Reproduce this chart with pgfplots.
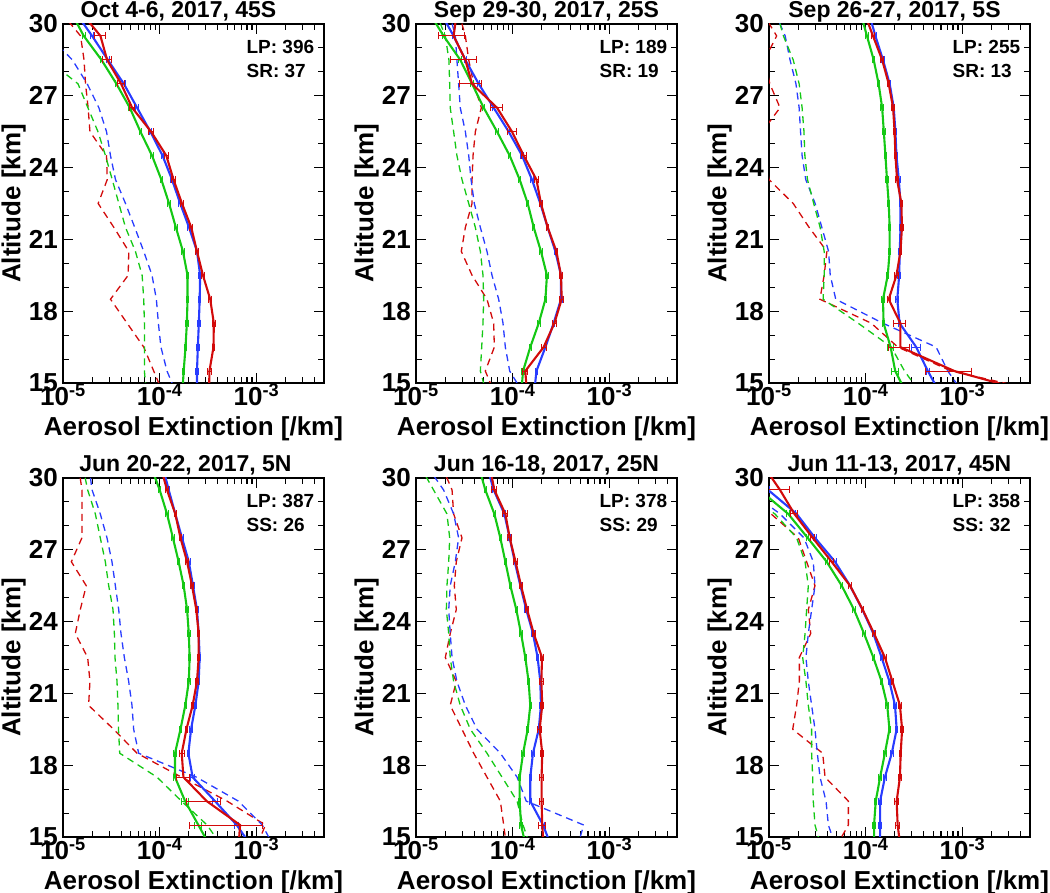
\documentclass[border=0pt]{standalone}
\usepackage{pgfplots}
\pgfplotsset{compat=1.18}
\usepackage{fontspec}
\setmainfont{Liberation Sans}
\definecolor{cR}{RGB}{210,10,10}
\definecolor{cB}{RGB}{40,60,255}
\definecolor{cG}{RGB}{20,200,20}
\newcommand{\tfont}{\fontsize{26}{26}\selectfont\bfseries}
\pgfplotsset{
  every axis/.append style={
    xmin=1e-5, xmax=5e-3, ymin=15, ymax=30,
    scale only axis, width=261pt, height=359pt, anchor=south west,
    axis line style={line width=1.3pt},
    tick style={black, line width=1.1pt},
    major tick length=10pt, minor tick length=6pt,
    xtick={1e-5,1e-4,1e-3},
    xticklabels={10\textsuperscript{-5},10\textsuperscript{-4},10\textsuperscript{-3}},
    minor xtick={2e-5,3e-5,4e-5,5e-5,6e-5,7e-5,8e-5,9e-5,2e-4,3e-4,4e-4,5e-4,6e-4,7e-4,8e-4,9e-4,2e-3,3e-3,4e-3},
    ytick={15,18,21,24,27,30},
    yticklabels={15,18,21,24,27,30},
    minor ytick={16,17,19,20,22,23,25,26,28,29},
    tick label style={font=\tfont},
    xticklabel style={anchor=north, inner sep=0pt, yshift=-1pt},
    yticklabel style={anchor=east, inner sep=0pt, xshift=-5pt},
    xlabel={Aerosol Extinction [/km]}, ylabel={Altitude [km]},
    xlabel style={at={(axis description cs:0.5,-0.145)}, anchor=base, font=\tfont},
    ylabel style={at={(axis description cs:-0.189,0.5)}, anchor=center, font=\tfont},
    title style={at={(axis description cs:0.5,1)}, anchor=base, font=\fontsize{23}{23}\selectfont\bfseries},
  },
}
\tikzset{
  mysol/.style={line width=2.1pt},
  mydash/.style={line width=1.3pt, dash pattern=on 7pt off 5pt},
}
\newcommand{\info}[2]{%
  \node[anchor=base west, font=\fontsize{19}{19}\selectfont\bfseries] at (axis description cs:0.69,0.919) {#1};
  \node[anchor=base west, font=\fontsize{19}{19}\selectfont\bfseries] at (axis description cs:0.69,0.852) {#2};}
\begin{document}
\begin{tikzpicture}
\useasboundingbox (0pt,0pt) rectangle (1050pt,893pt);
% ---------------- Panel 1 ----------------
\begin{semilogxaxis}[at={(63pt,510pt)}, title={Oct 4-6, 2017, 45S}, title style={xshift=-15pt}]
\addplot[cR,mydash] table[row sep=\\,x=x,y=y]{y x\\30.5 9.5e-6\\29.5 1.52e-5\\28.5 1.65e-5\\27.5 1.71e-5\\26.5 1.82e-5\\25.5 1.90e-5\\24.5 2.82e-5\\23.5 2.87e-5\\22.5 2.31e-5\\21.5 3.36e-5\\20.5 4.79e-5\\19.5 4.72e-5\\18.5 3.10e-5\\17.5 4.60e-5\\16.5 6.84e-5\\15.5 8.67e-5\\14.5 1.10e-4\\};
\addplot[cB,mydash] table[row sep=\\,x=x,y=y]{y x\\30.5 4e-6\\29.5 7.2e-6\\28.5 1.25e-5\\27.5 1.78e-5\\26.5 2.35e-5\\25.5 2.82e-5\\24.5 3.10e-5\\23.5 3.49e-5\\22.5 4.43e-5\\21.5 5.52e-5\\20.5 6.84e-5\\19.5 8.33e-5\\18.5 9.24e-5\\17.5 9.69e-5\\16.5 1.03e-4\\15.5 1.19e-4\\14.5 1.51e-4\\};
\addplot[cG,mydash] table[row sep=\\,x=x,y=y]{y x\\30.5 2e-6\\29.5 3e-6\\28.5 7.0e-6\\27.5 1.43e-5\\26.5 1.81e-5\\25.5 2.30e-5\\24.5 2.75e-5\\23.5 3.23e-5\\22.5 3.78e-5\\21.5 4.43e-5\\20.5 5.61e-5\\19.5 6.58e-5\\18.5 6.84e-5\\17.5 6.95e-5\\16.5 6.95e-5\\15.5 6.95e-5\\14.5 7.3e-5\\};
\addplot[cG,mysol,error bars/.cd, x dir=both, x explicit relative, error bar style={line width=1pt}, error mark options={rotate=90, mark size=3.5pt, line width=1pt}] table[row sep=\\,x=x,y=y,x error expr=0.03]{y x\\30.5 1.21e-5\\29.5 1.64e-5\\28.5 2.50e-5\\27.5 3.57e-5\\26.5 4.91e-5\\25.5 6.32e-5\\24.5 8.33e-5\\23.5 1.04e-4\\22.5 1.25e-4\\21.5 1.47e-4\\20.5 1.74e-4\\19.5 1.94e-4\\18.5 1.94e-4\\17.5 1.91e-4\\16.5 1.85e-4\\15.5 1.77e-4\\14.5 1.71e-4\\};
\addplot[cB,mysol,error bars/.cd, x dir=both, x explicit relative, error bar style={line width=1pt}, error mark options={rotate=90, mark size=3.5pt, line width=1pt}] table[row sep=\\,x=x,y=y,x error expr=0.03]{y x\\30.5 1.34e-5\\29.5 2.00e-5\\28.5 2.91e-5\\27.5 4.26e-5\\26.5 5.84e-5\\25.5 8.01e-5\\24.5 1.07e-4\\23.5 1.34e-4\\22.5 1.63e-4\\21.5 2.01e-4\\20.5 2.43e-4\\19.5 2.62e-4\\18.5 2.59e-4\\17.5 2.54e-4\\16.5 2.48e-4\\15.5 2.43e-4\\14.5 2.43e-4\\};
\addplot[cR,mysol,error bars/.cd, x dir=both, x explicit relative, error bar style={line width=1pt}, error mark options={rotate=90, mark size=3.5pt, line width=1pt}] table[row sep=\\,x=x,y=y,x error=e]{y x e\\30.5 1.53e-5 0\\29.5 2.44e-5 0.14\\28.5 2.86e-5 0.10\\27.5 3.99e-5 0.08\\26.5 5.19e-5 0.06\\25.5 8.15e-5 0.05\\24.5 1.17e-4 0.05\\23.5 1.39e-4 0.04\\22.5 1.70e-4 0.03\\21.5 2.12e-4 0.03\\20.5 2.43e-4 0.03\\19.5 2.80e-4 0.03\\18.5 3.33e-4 0.03\\17.5 3.63e-4 0.03\\16.5 3.60e-4 0.03\\15.5 3.27e-4 0.04\\14.5 3.23e-4 0\\};
\info{LP: 396}{SR: 37}
\end{semilogxaxis}
% ---------------- Panel 2 ----------------
\begin{semilogxaxis}[at={(416pt,510pt)}, title={Sep 29-30, 2017, 25S}]
\addplot[cR,mydash] table[row sep=\\,x=x,y=y]{y x\\30.5 2.76e-5\\29.5 3.24e-5\\28.5 3.51e-5\\27.5 3.95e-5\\26.5 4.74e-5\\25.5 4.11e-5\\24.5 3.89e-5\\23.5 3.80e-5\\22.5 3.80e-5\\21.5 3.24e-5\\20.5 2.94e-5\\19.5 3.80e-5\\18.5 5.42e-5\\17.5 6.36e-5\\16.5 6.46e-5\\15.5 5.21e-5\\14.5 6.6e-5\\};
\addplot[cB,mydash] table[row sep=\\,x=x,y=y]{y x\\30.5 2.2e-5\\29.5 2.55e-5\\28.5 2.65e-5\\27.5 2.76e-5\\26.5 2.87e-5\\25.5 3.24e-5\\24.5 3.51e-5\\23.5 3.71e-5\\22.5 4.01e-5\\21.5 4.63e-5\\20.5 5.42e-5\\19.5 6.11e-5\\18.5 7.16e-5\\17.5 7.94e-5\\16.5 8.39e-5\\15.5 9.31e-5\\14.5 1.32e-4\\};
\addplot[cG,mydash] table[row sep=\\,x=x,y=y]{y x\\30.5 1.6e-5\\29.5 2.01e-5\\28.5 2.19e-5\\27.5 2.23e-5\\26.5 2.26e-5\\25.5 2.45e-5\\24.5 2.65e-5\\23.5 2.99e-5\\22.5 3.51e-5\\21.5 4.11e-5\\20.5 4.63e-5\\19.5 4.93e-5\\18.5 5.01e-5\\17.5 4.93e-5\\16.5 4.78e-5\\15.5 4.63e-5\\14.5 5.4e-5\\};
\addplot[cG,mysol,error bars/.cd, x dir=both, x explicit relative, error bar style={line width=1pt}, error mark options={rotate=90, mark size=3.5pt, line width=1pt}] table[row sep=\\,x=x,y=y,x error expr=0.03]{y x\\30.5 1.36e-5\\29.5 1.93e-5\\28.5 2.87e-5\\27.5 3.80e-5\\26.5 5.01e-5\\25.5 6.89e-5\\24.5 9.31e-5\\23.5 1.18e-4\\22.5 1.43e-4\\21.5 1.65e-4\\20.5 1.96e-4\\19.5 2.26e-4\\18.5 2.18e-4\\17.5 1.86e-4\\16.5 1.52e-4\\15.5 1.28e-4\\14.5 1.22e-4\\};
\addplot[cB,mysol,error bars/.cd, x dir=both, x explicit relative, error bar style={line width=1pt}, error mark options={rotate=90, mark size=3.5pt, line width=1pt}] table[row sep=\\,x=x,y=y,x error expr=0.03]{y x\\30.5 1.78e-5\\29.5 2.45e-5\\28.5 3.24e-5\\27.5 4.45e-5\\26.5 6.36e-5\\25.5 9.09e-5\\24.5 1.25e-4\\23.5 1.58e-4\\22.5 1.93e-4\\21.5 2.30e-4\\20.5 2.76e-4\\19.5 3.16e-4\\18.5 3.16e-4\\17.5 2.65e-4\\16.5 2.18e-4\\15.5 1.76e-4\\14.5 1.66e-4\\};
\addplot[cR,mysol,error bars/.cd, x dir=both, x explicit relative, error bar style={line width=1pt}, error mark options={rotate=90, mark size=3.5pt, line width=1pt}] table[row sep=\\,x=x,y=y,x error=e]{y x e\\30.5 2.65e-5 0\\29.5 2.45e-5 0.30\\28.5 3.24e-5 0.30\\27.5 3.80e-5 0.25\\26.5 6.89e-5 0.15\\25.5 9.84e-5 0.10\\24.5 1.30e-4 0.06\\23.5 1.76e-4 0.05\\22.5 1.96e-4 0.04\\21.5 2.30e-4 0.03\\20.5 2.83e-4 0.03\\19.5 3.16e-4 0.03\\18.5 3.21e-4 0.04\\17.5 2.70e-4 0.05\\16.5 2.09e-4 0.06\\15.5 1.35e-4 0.06\\14.5 1.41e-4 0\\};
\info{LP: 189}{SR: 19}
\end{semilogxaxis}
% ---------------- Panel 3 ----------------
\begin{semilogxaxis}[at={(769pt,510pt)}, title={Sep 26-27, 2017, 5S}, title style={xshift=-5pt}]
\addplot[cR,mydash] table[row sep=\\,x=x,y=y]{y x\\30.5 8.5e-6\\29.5 1.20e-5\\28.5 9.0e-6\\27.5 1.02e-5\\26.5 1.30e-5\\25.5 8.5e-6\\24.5 9.0e-6\\23.5 1.0e-5\\22.5 1.78e-5\\21.5 2.6e-5\\20.5 3.97e-5\\19.5 3.72e-5\\18.5 3.36e-5\\17.5 1.14e-4\\16.5 2.15e-4\\15.5 7.64e-4\\14.5 9.6e-3\\};
\addplot[cB,mydash] table[row sep=\\,x=x,y=y]{y x\\30.5 1.15e-5\\29.5 1.47e-5\\28.5 1.65e-5\\27.5 1.90e-5\\26.5 2.05e-5\\25.5 2.12e-5\\24.5 2.20e-5\\23.5 2.40e-5\\22.5 3.00e-5\\21.5 3.52e-5\\20.5 4.13e-5\\19.5 4.30e-5\\18.5 4.9e-5\\17.5 1.5e-4\\16.5 5.35e-4\\15.5 7.06e-4\\14.5 1.05e-3\\};
\addplot[cG,mydash] table[row sep=\\,x=x,y=y]{y x\\30.5 1.2e-5\\29.5 1.41e-5\\28.5 1.78e-5\\27.5 2.05e-5\\26.5 2.20e-5\\25.5 2.30e-5\\24.5 2.35e-5\\23.5 2.50e-5\\22.5 2.90e-5\\21.5 3.38e-5\\20.5 3.72e-5\\19.5 3.72e-5\\18.5 3.63e-5\\17.5 8.34e-5\\16.5 1.84e-4\\15.5 2.52e-4\\14.5 3.8e-4\\};
\addplot[cG,mysol,error bars/.cd, x dir=both, x explicit relative, error bar style={line width=1pt}, error mark options={rotate=90, mark size=3.5pt, line width=1pt}] table[row sep=\\,x=x,y=y,x error=e]{y x e\\30.5 8.8e-5 0\\29.5 1.03e-4 0.03\\28.5 1.21e-4 0.03\\27.5 1.36e-4 0.03\\26.5 1.48e-4 0.03\\25.5 1.54e-4 0.03\\24.5 1.60e-4 0.03\\23.5 1.66e-4 0.03\\22.5 1.73e-4 0.03\\21.5 1.77e-4 0.03\\20.5 1.77e-4 0.03\\19.5 1.69e-4 0.03\\18.5 1.51e-4 0.03\\17.5 1.53e-4 0.03\\16.5 1.81e-4 0.08\\15.5 2.02e-4 0.08\\14.5 2.69e-4 0\\};
\addplot[cB,mysol,error bars/.cd, x dir=both, x explicit relative, error bar style={line width=1pt}, error mark options={rotate=90, mark size=3.5pt, line width=1pt}] table[row sep=\\,x=x,y=y,x error=e]{y x e\\30.5 1.07e-4 0\\29.5 1.26e-4 0.03\\28.5 1.51e-4 0.03\\27.5 1.77e-4 0.03\\26.5 1.95e-4 0.03\\25.5 2.03e-4 0.03\\24.5 2.08e-4 0.03\\23.5 2.20e-4 0.03\\22.5 2.29e-4 0.03\\21.5 2.29e-4 0.03\\20.5 2.25e-4 0.03\\19.5 2.22e-4 0.03\\18.5 2.12e-4 0.03\\17.5 2.24e-4 0.03\\16.5 3.33e-4 0.10\\15.5 4.39e-4 0.03\\14.5 6.0e-4 0\\};
\addplot[cR,mysol,error bars/.cd, x dir=both, x explicit relative, error bar style={line width=1pt}, error mark options={rotate=90, mark size=3.5pt, line width=1pt}] table[row sep=\\,x=x,y=y,x error=e]{y x e\\30.5 9.6e-5 0\\29.5 1.19e-4 0.03\\28.5 1.48e-4 0.03\\27.5 1.73e-4 0.03\\26.5 1.92e-4 0.03\\25.5 1.99e-4 0.03\\24.5 2.03e-4 0.03\\23.5 2.11e-4 0.03\\22.5 2.34e-4 0.03\\21.5 2.37e-4 0.03\\20.5 2.29e-4 0.03\\19.5 2.08e-4 0.04\\18.5 1.73e-4 0.04\\17.5 2.28e-4 0.14\\16.5 2.28e-4 0.25\\15.5 8.27e-4 0.5\\14.5 6.45e-3 0\\};
\info{LP: 255}{SR: 13}
\end{semilogxaxis}
% ---------------- Panel 4 ----------------
\begin{semilogxaxis}[at={(63pt,56pt)}, title={Jun 20-22, 2017, 5N}, title style={xshift=-8pt}]
\addplot[cR,mydash] table[row sep=\\,x=x,y=y]{y x\\30.5 1.45e-5\\29.5 1.57e-5\\28.5 1.57e-5\\27.5 1.57e-5\\26.5 1.22e-5\\25.5 1.74e-5\\24.5 1.51e-5\\23.5 1.34e-5\\22.5 1.80e-5\\21.5 1.90e-5\\20.5 1.84e-5\\19.5 3.34e-5\\18.5 5.83e-5\\17.5 1.68e-4\\16.5 4.97e-4\\15.5 1.24e-3\\14.5 9.8e-4\\};
\addplot[cB,mydash] table[row sep=\\,x=x,y=y]{y x\\30.5 1.85e-5\\29.5 2.0e-5\\28.5 2.43e-5\\27.5 2.85e-5\\26.5 3.21e-5\\25.5 3.48e-5\\24.5 3.77e-5\\23.5 3.98e-5\\22.5 4.31e-5\\21.5 4.78e-5\\20.5 5.17e-5\\19.5 5.38e-5\\18.5 6.06e-5\\17.5 2.4e-4\\16.5 6.5e-4\\15.5 1.15e-3\\14.5 1.56e-3\\};
\addplot[cG,mydash] table[row sep=\\,x=x,y=y]{y x\\30.5 1.6e-5\\29.5 1.80e-5\\28.5 2.16e-5\\27.5 2.43e-5\\26.5 2.74e-5\\25.5 2.97e-5\\24.5 3.29e-5\\23.5 3.40e-5\\22.5 3.45e-5\\21.5 3.62e-5\\20.5 3.70e-5\\19.5 3.75e-5\\18.5 3.86e-5\\17.5 9.38e-5\\16.5 1.68e-4\\15.5 3.09e-4\\14.5 4.6e-4\\};
\addplot[cG,mysol,error bars/.cd, x dir=both, x explicit relative, error bar style={line width=1pt}, error mark options={rotate=90, mark size=3.5pt, line width=1pt}] table[row sep=\\,x=x,y=y,x error=e]{y x e\\30.5 8.1e-5 0\\29.5 1.00e-4 0.03\\28.5 1.19e-4 0.03\\27.5 1.37e-4 0.03\\26.5 1.57e-4 0.03\\25.5 1.77e-4 0.03\\24.5 1.92e-4 0.03\\23.5 2.00e-4 0.03\\22.5 2.04e-4 0.03\\21.5 2.00e-4 0.03\\20.5 1.84e-4 0.03\\19.5 1.64e-4 0.03\\18.5 1.44e-4 0.03\\17.5 1.44e-4 0.03\\16.5 1.83e-4 0.08\\15.5 2.51e-4 0.08\\14.5 3.44e-4 0\\};
\addplot[cB,mysol,error bars/.cd, x dir=both, x explicit relative, error bar style={line width=1pt}, error mark options={rotate=90, mark size=3.5pt, line width=1pt}] table[row sep=\\,x=x,y=y,x error=e]{y x e\\30.5 1.07e-4 0\\29.5 1.24e-4 0.03\\28.5 1.45e-4 0.03\\27.5 1.70e-4 0.03\\26.5 2.00e-4 0.03\\25.5 2.21e-4 0.03\\24.5 2.43e-4 0.03\\23.5 2.53e-4 0.03\\22.5 2.59e-4 0.03\\21.5 2.53e-4 0.03\\20.5 2.34e-4 0.03\\19.5 2.11e-4 0.03\\18.5 1.98e-4 0.03\\17.5 2.19e-4 0.04\\16.5 3.73e-4 0.05\\15.5 6.26e-4 0.05\\14.5 9.3e-4 0\\};
\addplot[cR,mysol,error bars/.cd, x dir=both, x explicit relative, error bar style={line width=1pt}, error mark options={rotate=90, mark size=3.5pt, line width=1pt}] table[row sep=\\,x=x,y=y,x error=e]{y x e\\30.5 1.02e-4 0\\29.5 1.19e-4 0.03\\28.5 1.45e-4 0.03\\27.5 1.64e-4 0.03\\26.5 1.92e-4 0.03\\25.5 2.16e-4 0.03\\24.5 2.39e-4 0.03\\23.5 2.53e-4 0.03\\22.5 2.53e-4 0.03\\21.5 2.43e-4 0.03\\20.5 2.19e-4 0.03\\19.5 1.89e-4 0.03\\18.5 1.69e-4 0.06\\17.5 1.76e-4 0.15\\16.5 3.06e-4 0.38\\15.5 6.78e-4 0.7\\14.5 6.5e-4 0\\};
\info{LP: 387}{SS: 26}
\end{semilogxaxis}
% ---------------- Panel 5 ----------------
\begin{semilogxaxis}[at={(416pt,56pt)}, title={Jun 16-18, 2017, 25N}]
\addplot[cR,mydash] table[row sep=\\,x=x,y=y]{y x\\30.5 1.85e-5\\29.5 2.36e-5\\28.5 2.45e-5\\27.5 2.99e-5\\26.5 2.61e-5\\25.5 2.49e-5\\24.5 2.61e-5\\23.5 2.26e-5\\22.5 2.01e-5\\21.5 2.61e-5\\20.5 2.26e-5\\19.5 2.99e-5\\18.5 3.95e-5\\17.5 5.42e-5\\16.5 7.45e-5\\15.5 8.07e-5\\14.5 8.7e-5\\};
\addplot[cB,mydash] table[row sep=\\,x=x,y=y]{y x\\30.5 1.3e-5\\29.5 1.93e-5\\28.5 2.45e-5\\27.5 2.76e-5\\26.5 2.55e-5\\25.5 2.26e-5\\24.5 2.18e-5\\23.5 2.26e-5\\22.5 2.36e-5\\21.5 2.65e-5\\20.5 3.24e-5\\19.5 4.28e-5\\18.5 7.45e-5\\17.5 1.11e-4\\16.5 1.38e-4\\15.5 5.42e-4\\14.5 4.6e-4\\};
\addplot[cG,mydash] table[row sep=\\,x=x,y=y]{y x\\30.5 1.1e-5\\29.5 1.52e-5\\28.5 2.09e-5\\27.5 2.23e-5\\26.5 2.18e-5\\25.5 2.09e-5\\24.5 2.06e-5\\23.5 2.18e-5\\22.5 2.26e-5\\21.5 2.45e-5\\20.5 2.87e-5\\19.5 3.65e-5\\18.5 5.42e-5\\17.5 7.76e-5\\16.5 1.11e-4\\15.5 1.28e-4\\14.5 1.55e-4\\};
\addplot[cG,mysol,error bars/.cd, x dir=both, x explicit relative, error bar style={line width=1pt}, error mark options={rotate=90, mark size=3.5pt, line width=1pt}] table[row sep=\\,x=x,y=y,x error expr=0.03]{y x\\30.5 4.44e-5\\29.5 5.21e-5\\28.5 6.46e-5\\27.5 7.45e-5\\26.5 8.40e-5\\25.5 9.46e-5\\24.5 1.09e-4\\23.5 1.22e-4\\22.5 1.35e-4\\21.5 1.46e-4\\20.5 1.52e-4\\19.5 1.43e-4\\18.5 1.28e-4\\17.5 1.18e-4\\16.5 1.18e-4\\15.5 1.22e-4\\14.5 1.39e-4\\};
\addplot[cB,mysol,error bars/.cd, x dir=both, x explicit relative, error bar style={line width=1pt}, error mark options={rotate=90, mark size=3.5pt, line width=1pt}] table[row sep=\\,x=x,y=y,x error expr=0.03]{y x\\30.5 5.42e-5\\29.5 6.36e-5\\28.5 8.20e-5\\27.5 9.31e-5\\26.5 1.05e-4\\25.5 1.20e-4\\24.5 1.38e-4\\23.5 1.62e-4\\22.5 1.81e-4\\21.5 1.93e-4\\20.5 1.96e-4\\19.5 1.86e-4\\18.5 1.62e-4\\17.5 1.52e-4\\16.5 1.52e-4\\15.5 2.06e-4\\14.5 2.57e-4\\};
\addplot[cR,mysol,error bars/.cd, x dir=both, x explicit relative, error bar style={line width=1pt}, error mark options={rotate=90, mark size=3.5pt, line width=1pt}] table[row sep=\\,x=x,y=y,x error=e]{y x e\\30.5 5.78e-5 0\\29.5 6.46e-5 0.06\\28.5 8.40e-5 0.06\\27.5 9.31e-5 0.04\\26.5 1.07e-4 0.04\\25.5 1.22e-4 0.04\\24.5 1.41e-4 0.04\\23.5 1.65e-4 0.04\\22.5 2.01e-4 0.04\\21.5 1.98e-4 0.04\\20.5 2.02e-4 0.04\\19.5 1.90e-4 0.04\\18.5 2.02e-4 0.04\\17.5 1.99e-4 0.05\\16.5 1.99e-4 0.05\\15.5 2.02e-4 0.08\\14.5 2.10e-4 0\\};
\info{LP: 378}{SS: 29}
\end{semilogxaxis}
% ---------------- Panel 6 ----------------
\begin{semilogxaxis}[at={(769pt,56pt)}, title={Jun 11-13, 2017, 45N}]
\addplot[cR,mydash] table[row sep=\\,x=x,y=y]{y x\\30.5 3e-6\\29.5 5e-6\\28.5 1.05e-5\\27.5 2.01e-5\\26.5 2.45e-5\\25.5 2.99e-5\\24.5 2.55e-5\\23.5 2.70e-5\\22.5 2.06e-5\\21.5 2.06e-5\\20.5 1.93e-5\\19.5 1.76e-5\\18.5 3.59e-5\\17.5 3.80e-5\\16.5 6.62e-5\\15.5 6.62e-5\\14.5 4.8e-5\\};
\addplot[cB,mydash] table[row sep=\\,x=x,y=y]{y x\\30.5 4e-6\\29.5 6e-6\\28.5 1.3e-5\\27.5 2.3e-5\\26.5 2.87e-5\\25.5 2.99e-5\\24.5 2.76e-5\\23.5 2.55e-5\\22.5 2.41e-5\\21.5 2.55e-5\\20.5 2.76e-5\\19.5 2.99e-5\\18.5 3.16e-5\\17.5 3.37e-5\\16.5 3.89e-5\\15.5 4.11e-5\\14.5 5.0e-5\\};
\addplot[cG,mydash] table[row sep=\\,x=x,y=y]{y x\\30.5 3e-6\\29.5 5e-6\\28.5 1.15e-5\\27.5 1.93e-5\\26.5 2.36e-5\\25.5 2.55e-5\\24.5 2.45e-5\\23.5 2.36e-5\\22.5 2.23e-5\\21.5 2.41e-5\\20.5 2.55e-5\\19.5 2.76e-5\\18.5 2.76e-5\\17.5 2.83e-5\\16.5 2.87e-5\\15.5 2.99e-5\\14.5 3.5e-5\\};
\addplot[cG,mysol,error bars/.cd, x dir=both, x explicit relative, error bar style={line width=1pt}, error mark options={rotate=90, mark size=3.5pt, line width=1pt}] table[row sep=\\,x=x,y=y,x error expr=0.03]{y x\\30.5 4e-6\\29.5 8.0e-6\\28.5 1.58e-5\\27.5 2.51e-5\\26.5 3.95e-5\\25.5 5.65e-5\\24.5 7.57e-5\\23.5 9.61e-5\\22.5 1.20e-4\\21.5 1.46e-4\\20.5 1.67e-4\\19.5 1.76e-4\\18.5 1.58e-4\\17.5 1.41e-4\\16.5 1.27e-4\\15.5 1.22e-4\\14.5 1.22e-4\\};
\addplot[cB,mysol,error bars/.cd, x dir=both, x explicit relative, error bar style={line width=1pt}, error mark options={rotate=90, mark size=3.5pt, line width=1pt}] table[row sep=\\,x=x,y=y,x error expr=0.03]{y x\\30.5 5.5e-6\\29.5 9.8e-6\\28.5 1.93e-5\\27.5 2.99e-5\\26.5 4.82e-5\\25.5 6.89e-5\\24.5 9.24e-5\\23.5 1.20e-4\\22.5 1.46e-4\\21.5 1.76e-4\\20.5 2.01e-4\\19.5 2.09e-4\\18.5 1.86e-4\\17.5 1.58e-4\\16.5 1.41e-4\\15.5 1.41e-4\\14.5 1.41e-4\\};
\addplot[cR,mysol,error bars/.cd, x dir=both, x explicit relative, error bar style={line width=1pt}, error mark options={rotate=90, mark size=3.5pt, line width=1pt}] table[row sep=\\,x=x,y=y,x error=e]{y x e\\30.5 8.8e-6 0\\29.5 1.30e-5 0.26\\28.5 1.83e-5 0.08\\27.5 2.83e-5 0.05\\26.5 4.45e-5 0.05\\25.5 6.89e-5 0.04\\24.5 9.31e-5 0.03\\23.5 1.22e-4 0.03\\22.5 1.58e-4 0.03\\21.5 1.89e-4 0.03\\20.5 2.26e-4 0.03\\19.5 2.38e-4 0.03\\18.5 2.30e-4 0.03\\17.5 2.26e-4 0.03\\16.5 2.09e-4 0.05\\15.5 2.14e-4 0.05\\14.5 2.30e-4 0\\};
\info{LP: 358}{SS: 32}
\end{semilogxaxis}
\end{tikzpicture}
\end{document}
